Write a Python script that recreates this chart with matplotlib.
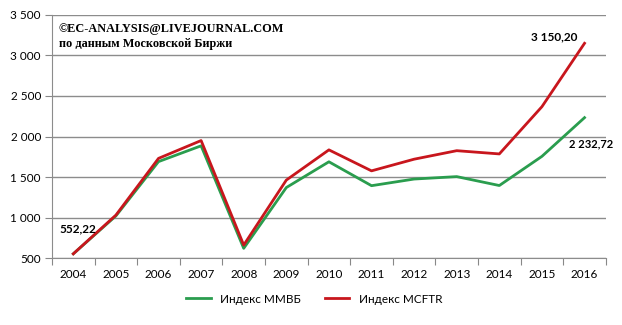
import matplotlib
matplotlib.use("Agg")
import matplotlib.pyplot as plt
from matplotlib.ticker import FuncFormatter, FixedLocator

years = ['2004', '2005', '2006', '2007', '2008', '2009', '2010',
         '2011', '2012', '2013', '2014', '2015', '2016']
micex = [552.22, 1020, 1690, 1885, 620, 1370, 1688,
         1393, 1475, 1505, 1395, 1755, 2232.72]
mcftr = [552.22, 1030, 1730, 1950, 660, 1462, 1835,
         1576, 1720, 1825, 1785, 2368, 3150.20]

plt.rcParams['font.family'] = ['Lato', 'DejaVu Sans']

fig = plt.figure(figsize=(6.22, 3.25), dpi=100)
ax = fig.add_axes([0.0836, 0.206, 0.8904, 0.748])

x = list(range(len(years)))
green = '#2a9d4e'
red = '#c8161d'
ax.plot(x, micex, color=green, lw=2, label='Индекс ММВБ')
ax.plot(x, mcftr, color=red, lw=2, label='Индекс MCFTR')

ax.set_xlim(-0.5, len(years) - 0.5)
ax.set_ylim(500, 3500)
ax.set_yticks(range(500, 3501, 500))
ax.yaxis.set_major_formatter(FuncFormatter(lambda v, p: f"{int(v):,}".replace(',', ' ')))

# ticks between categories, labels at centres
ax.xaxis.set_major_locator(FixedLocator([i - 0.5 for i in range(len(years) + 1)]))
ax.xaxis.set_minor_locator(FixedLocator(x))
ax.set_xticklabels([], minor=False)
ax.set_xticklabels(years, minor=True)
ax.tick_params(axis='x', which='major', length=5, color='#888888')
ax.tick_params(axis='x', which='minor', length=0, pad=8, labelsize=8.5)
ax.tick_params(axis='y', length=5, color='#888888', labelsize=8.5, pad=3)

ax.grid(axis='y', color='#8c8c8c', lw=1)
ax.set_axisbelow(True)
for s in ['top', 'right']:
    ax.spines[s].set_visible(False)
for s in ['left', 'bottom']:
    ax.spines[s].set_color('#8c8c8c')

# data labels
ax.annotate('552,22', (0, micex[0]), xytext=(-10, 14), textcoords='offset points',
            fontsize=8.5, fontweight='bold', ha='left', va='bottom')
ax.annotate('3 150,20', (12, mcftr[-1]), xytext=(-5, 1), textcoords='offset points',
            fontsize=8.5, fontweight='bold', ha='right', va='bottom')
ax.annotate('2 232,72', (12, micex[-1]), xytext=(-11, -19), textcoords='offset points',
            fontsize=8, fontweight='bold', ha='left', va='center')

ax.text(0.012, 0.965, '©EC-ANALYSIS@LIVEJOURNAL.COM\nпо данным Московской Биржи',
        transform=ax.transAxes, family=['Liberation Serif', 'DejaVu Serif'],
        fontweight='bold', fontsize=8.8, va='top', ha='left', linespacing=1.3)

fig.legend(loc='lower center', bbox_to_anchor=(0.505, 0.03), ncol=2, frameon=False,
           fontsize=8.5, handlelength=2.1, columnspacing=2.0)

fig.savefig('out.png', dpi=100)
